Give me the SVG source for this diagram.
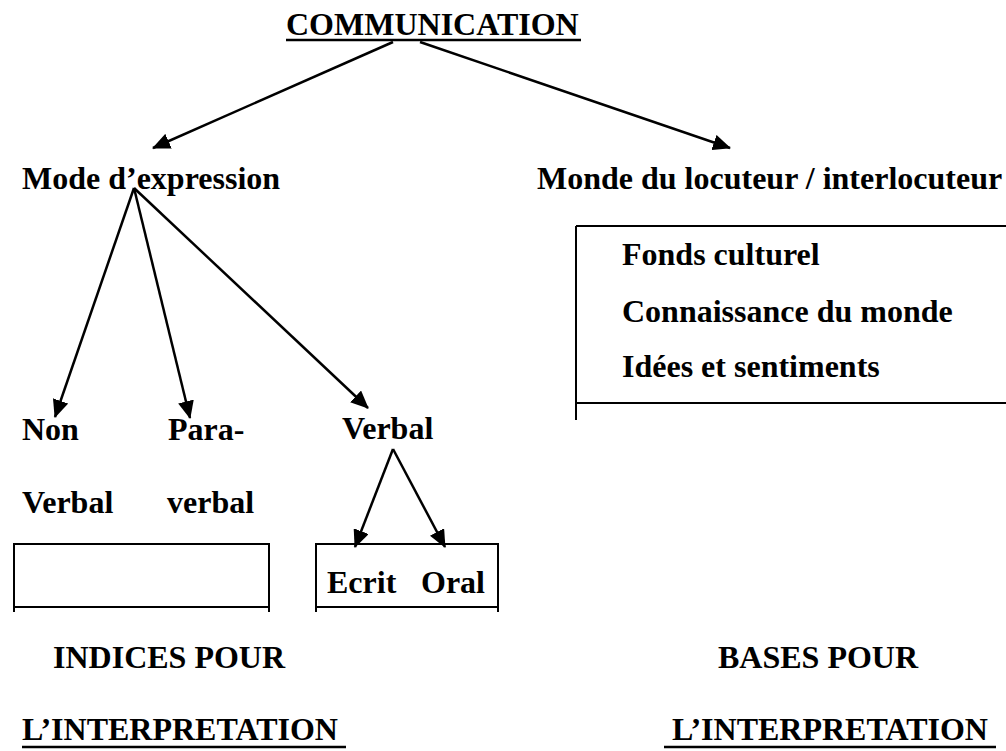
<svg xmlns="http://www.w3.org/2000/svg" width="1006" height="751" viewBox="0 0 1006 751">
<style>
text{font-family:"Liberation Serif","Times New Roman",serif;font-weight:bold;font-size:32px;fill:#000}
.ln{stroke:#000;stroke-width:2;fill:none}
.ul{stroke:#000;stroke-width:2.5}
.ar{stroke:#000;stroke-width:2.5;fill:none;marker-end:url(#ah)}
</style>
<defs>
<marker id="ah" markerUnits="userSpaceOnUse" markerWidth="18" markerHeight="16" viewBox="0 0 18 16" refX="17" refY="8" orient="auto">
<path d="M0,0 L18,8 L0,16 Z" fill="#000"/>
</marker>
</defs>
<rect width="1006" height="751" fill="#fff"/>
<g id="connectors">
<line class="ar" x1="393" y1="42" x2="153" y2="148"/>
<line class="ar" x1="420" y1="42" x2="730" y2="148"/>
<line class="ar" x1="134" y1="188" x2="55" y2="417"/>
<line class="ar" x1="134" y1="188" x2="190" y2="418"/>
<line class="ar" x1="134" y1="188" x2="368" y2="408"/>
<line class="ar" x1="393" y1="449" x2="355" y2="547"/>
<line class="ar" x1="393" y1="449" x2="445" y2="547"/>
</g>
<g id="communication">
<text x="286" y="35">COMMUNICATION</text>
<line class="ul" x1="286" y1="40" x2="581" y2="40"/>
</g>
<g id="mode">
<text x="22" y="189">Mode d’expression</text>
</g>
<g id="monde">
<text x="537" y="189">Monde du locuteur / interlocuteur</text>
</g>
<g id="monde-box">
<path class="ln" d="M576,226 H1006 M576,226 V420 M576,403 H1006"/>
<text x="622" y="265">Fonds culturel</text>
<text x="622" y="322">Connaissance du monde</text>
<text x="622" y="377">Idées et sentiments</text>
</g>
<g id="non-verbal">
<text x="22" y="440">Non</text>
<text x="22" y="513">Verbal</text>
</g>
<g id="para-verbal">
<text x="168" y="440">Para-</text>
<text x="167" y="513">verbal</text>
</g>
<g id="verbal">
<text x="342" y="439">Verbal</text>
</g>
<g id="box-left">
<path class="ln" d="M14,612 V544 H269 V612 M14,607 H269"/>
</g>
<g id="box-verbal">
<path class="ln" d="M316,612 V544 H498 V612 M316,607 H498"/>
<text x="327" y="593">Ecrit</text>
<text x="421" y="593">Oral</text>
</g>
<g id="indices">
<text x="53" y="668">INDICES POUR</text>
<text x="22" y="740">L’INTERPRETATION</text>
<line class="ul" x1="22" y1="747" x2="346" y2="747"/>
</g>
<g id="bases">
<text x="718" y="668">BASES POUR</text>
<text x="672" y="740">L’INTERPRETATION</text>
<line class="ul" x1="664" y1="747" x2="996" y2="747"/>
</g>
</svg>
